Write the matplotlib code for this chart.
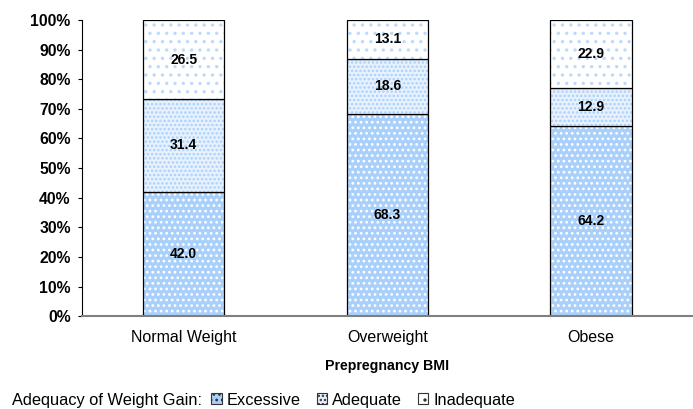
import numpy as np
import matplotlib.pyplot as plt

plt.rcParams['font.family'] = ['Liberation Sans', 'DejaVu Sans']
plt.rcParams['hatch.linewidth'] = 1.2

categories = ['Normal Weight', 'Overweight', 'Obese']
excessive = [42.0, 68.3, 64.2]
adequate = [31.4, 18.6, 12.9]
inadequate = [26.5, 13.1, 22.9]

series = [('Excessive', excessive, '#a9d0fb', 'white', '...'),
          ('Adequate', adequate, '#e8f2fe', '#a9d0fb', '....'),
          ('Inadequate', inadequate, 'white', '#bcdafc', '..')]

fig = plt.figure(figsize=(6.93, 4.09), dpi=100)
ax = fig.add_axes([0.118, 0.227, 0.882, 0.724])

x = np.arange(len(categories))
width = 0.4
bottom = np.zeros(len(categories))
handles = []
for name, vals, face, hcol, hatch in series:
    vals = np.array(vals)
    # hatch layer, then a black outline on top
    ax.bar(x, vals, width, bottom=bottom, color=face, edgecolor=hcol,
           hatch=hatch, linewidth=0)
    ax.bar(x, vals, width, bottom=bottom, fill=False, edgecolor='black',
           linewidth=0.9)
    h = plt.Rectangle((0, 0), 1, 1, facecolor=face, edgecolor='#333333',
                      hatch=hatch, linewidth=0.8)
    handles.append((h, name))
    for xi, b, v in zip(x, bottom, vals):
        ax.text(xi, b + v/2, '%.1f' % v, ha='center', va='center',
                fontsize=10, fontweight='bold')
    bottom += vals

ax.set_xlim(-0.5, 2.5)
ax.set_ylim(0, 100)
ax.set_yticks(np.arange(0, 101, 10))
ax.set_yticklabels(['%d%%' % v for v in range(0, 101, 10)],
                   fontsize=11.3, fontweight='bold')
ax.set_xticks(x)
ax.set_xticklabels(categories, fontsize=11.5)
ax.tick_params(axis='x', length=0, pad=10)
ax.tick_params(axis='y', length=3, pad=5)
ax.spines['top'].set_visible(False)
ax.spines['right'].set_visible(False)
ax.spines['bottom'].set_color('#808080')
ax.spines['bottom'].set_linewidth(1.5)
ax.set_xlabel('Prepregnancy BMI', fontsize=10.2, fontweight='bold', labelpad=10)

fig.text(0.017, 0.022, 'Adequacy of Weight Gain:', fontsize=11.8, va='center')
fig.legend([h for h, n in handles], [n for h, n in handles],
           loc='center left', bbox_to_anchor=(0.305, 0.022), ncol=3,
           frameon=False, fontsize=11.8, handlelength=0.62, handleheight=0.62,
           handletextpad=0.3, columnspacing=1.0, borderaxespad=0,
           borderpad=0)

fig.savefig('out.png', dpi=100)
